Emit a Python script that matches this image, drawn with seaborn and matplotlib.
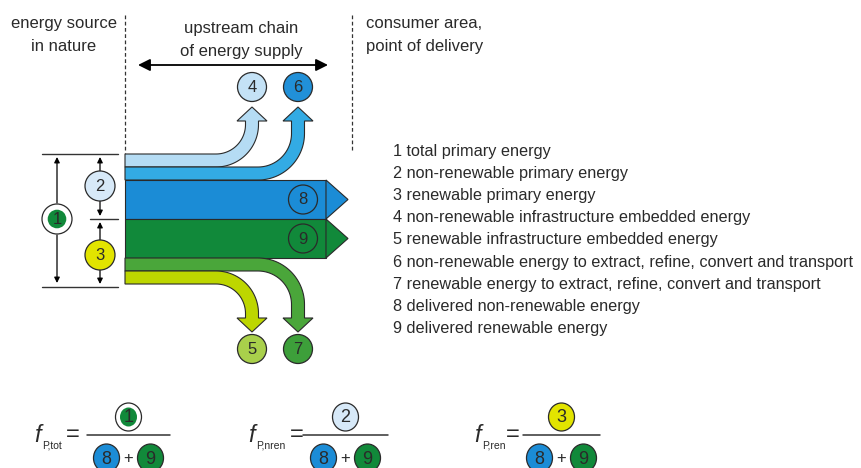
import numpy as np
import matplotlib
matplotlib.use("Agg")
import matplotlib.pyplot as plt
from matplotlib.patches import Circle, Ellipse, Polygon, Rectangle
import seaborn as sns

# energy streams, top to bottom (width = amount of energy)
stream_ids = [4, 6, 8, 9, 7, 5]
stream_widths = [13, 13, 39, 39, 13, 13]
stream_colors = ["#b5dcf4", "#33abe4", "#1b8cd6", "#11893a", "#4aa63a", "#bdd600"]

circle_fill = {1: "white", 2: "#d7e9f8", 3: "#e2e400", 4: "#c4e2f6", 5: "#a9d04b",
               6: "#2190d8", 7: "#3d9f3a", 8: "#1b8cd6", 9: "#11893a"}

legend_labels = [
    "1 total primary energy",
    "2 non-renewable primary energy",
    "3 renewable primary energy",
    "4 non-renewable infrastructure embedded energy",
    "5 renewable infrastructure embedded energy",
    "6 non-renewable energy to extract, refine, convert and transport",
    "7 renewable energy to extract, refine, convert and transport",
    "8 delivered non-renewable energy",
    "9 delivered renewable energy",
]

header_lines = [
    ["energy source", "in nature"],
    ["upstream chain", "of energy supply"],
    ["consumer area,", "point of delivery"],
]

formula_subs = ["P,tot", "P,nren", "P,ren"]
formula_nums = [1, 2, 3]

#%%
sns.set_theme(style="white")
plt.rcParams["font.family"] = ["Liberation Sans", "DejaVu Sans"]

fig = plt.figure(figsize=(8.61, 4.68), dpi=100)
ax = fig.add_axes([0, 0, 1, 1])
ax.set_xlim(0, 861)
ax.set_ylim(468, 0)
ax.set_axis_off()

EDGE = "#2a2a2a"
TXT = "#2a2a2a"
FS = 12
x0 = 125
edges = 154 + np.concatenate([[0], np.cumsum(stream_widths)])
yc = {sid: (edges[i] + edges[i + 1]) / 2 for i, sid in enumerate(stream_ids)}
wd = dict(zip(stream_ids, stream_widths))
col = dict(zip(stream_ids, stream_colors))


def num_circle(x, y, n, r=14.5, fill=None, fs=12):
    fc = circle_fill[n] if fill is None else fill
    ax.add_patch(Circle((x, y), r, facecolor=fc, edgecolor=EDGE, lw=0.9, zorder=5))
    if n == 1:
        ax.add_patch(Circle((x, y), r * 0.62, facecolor="#11893a", lw=0, zorder=6))
    ax.text(x, y + 0.5, str(n), ha="center", va="center", fontsize=fs, color=TXT, zorder=7)


def bent_band(sid, xa, R, y_base, d):
    # d = -1 bends upward, +1 bends downward
    w = wd[sid]
    c = yc[sid]
    cx, cy = xa - R, c + d * R
    t = np.linspace(0, np.pi / 2, 40)
    ri, ro = R - w / 2, R + w / 2
    inner = [(x0, c + d * w / 2)] + list(zip(cx + ri * np.sin(t), cy - d * ri * np.cos(t))) + [(xa - w / 2, y_base)]
    outer = [(x0, c - d * w / 2)] + list(zip(cx + ro * np.sin(t), cy - d * ro * np.cos(t))) + [(xa + w / 2, y_base)]
    head = [(xa - 15, y_base), (xa, y_base + d * 14), (xa + 15, y_base)]
    pts = inner + head + outer[::-1]
    ax.add_patch(Polygon(pts, closed=True, facecolor=col[sid], edgecolor=EDGE, lw=0.8, zorder=3))


# delivered streams 8 and 9
for sid in [8, 9]:
    top = yc[sid] - wd[sid] / 2
    ax.add_patch(Rectangle((x0, top), 326 - x0, wd[sid], facecolor=col[sid], edgecolor=EDGE, lw=0.8, zorder=3))
    ax.add_patch(Polygon([(326, top), (348, yc[sid]), (326, top + wd[sid])], closed=True,
                         facecolor=col[sid], edgecolor=EDGE, lw=0.8, zorder=3))
    ax.add_patch(Circle((303, yc[sid]), 14.5, facecolor="none", edgecolor=EDGE, lw=0.9, zorder=5))
    ax.text(303, yc[sid] + 0.5, str(sid), ha="center", va="center", fontsize=12, color=TXT, zorder=7)

# branch streams
bent_band(4, 252, 36, 121, -1)
bent_band(6, 298, 40, 121, -1)
bent_band(7, 298, 40, 318, 1)
bent_band(5, 252, 36, 318, 1)
for sid, x, y in [(4, 252, 87), (6, 298, 87), (5, 252, 349), (7, 298, 349)]:
    num_circle(x, y, sid)

# dashed boundaries
ax.plot([125, 125], [15, 153], color="#333333", lw=0.9, ls=(0, (3, 2)))
ax.plot([352, 352], [15, 150], color="#333333", lw=0.9, ls=(0, (3, 2)))

# upstream chain arrow
ax.annotate("", xy=(138, 65), xytext=(328, 65),
            arrowprops=dict(arrowstyle="<|-|>", color="black", lw=1.3, mutation_scale=18,
                            shrinkA=0, shrinkB=0))

# headers
for (l1, l2), x, ha, yb in zip(header_lines, [64, 241, 366], ["center", "center", "left"], [28, 33, 28]):
    ax.text(x, yb, l1, ha=ha, va="baseline", fontsize=FS, color=TXT)
    ax.text(x, yb + 23, l2, ha=ha, va="baseline", fontsize=FS, color=TXT)

# dimension lines on the left
for xa_, xb_, y in [(42, 118, edges[0]), (90, 118, edges[3]), (42, 118, edges[-1] + 3)]:
    ax.plot([xa_, xb_], [y, y], color="#333333", lw=1.0)


def dim_arrow(x, y_from, y_to):
    ax.annotate("", xy=(x, y_to), xytext=(x, y_from),
                arrowprops=dict(arrowstyle="-|>", color="black", lw=0.9, mutation_scale=8,
                                shrinkA=0, shrinkB=0))


dim_arrow(57, 203, 157)
dim_arrow(57, 235, 283)
dim_arrow(100, 171, 157)
dim_arrow(100, 201, 216)
dim_arrow(100, 240, 222)
dim_arrow(100, 270, 284)
num_circle(57, 219, 1, r=15)
num_circle(100, 186, 2, r=15)
num_circle(100, 255, 3, r=15)

# legend
for i, lab in enumerate(legend_labels):
    ax.text(393, 156 + i * 22.1, lab, ha="left", va="baseline", fontsize=11.7, color=TXT)

# formulas
fx = [38, 252, 478]
eqx = [73, 297, 513]
lines = [(87, 170), (303, 388), (523, 600)]
for sub, n, xf, xe, (l0, l1) in zip(formula_subs, formula_nums, fx, eqx, lines):
    xc = (l0 + l1) / 2
    ax.text(xf, 442, "f", ha="center", va="baseline", fontsize=17, style="italic", color=TXT)
    ax.text(xf + 4, 448, sub, ha="left", va="baseline", fontsize=7.5, color=TXT)
    ax.text(xe, 441, "=", ha="center", va="baseline", fontsize=17, color=TXT)
    ax.plot([l0, l1], [435, 435], color="#333333", lw=1.1)
    ax.add_patch(Ellipse((xc, 417), 26, 28, facecolor=circle_fill[n], edgecolor=EDGE, lw=0.9))
    if n == 1:
        ax.add_patch(Ellipse((xc, 417), 17, 19, facecolor="#11893a", lw=0))
    ax.text(xc, 418, str(n), ha="center", va="center", fontsize=13, color=TXT)
    for k, dx in [(8, -22), (9, 22)]:
        ax.add_patch(Ellipse((xc + dx, 458), 26, 28, facecolor=circle_fill[k], edgecolor=EDGE, lw=0.9))
        ax.text(xc + dx, 459, str(k), ha="center", va="center", fontsize=13, color=TXT)
    ax.text(xc, 459, "+", ha="center", va="center", fontsize=12, color=TXT)

fig.savefig("out.png", dpi=100)
